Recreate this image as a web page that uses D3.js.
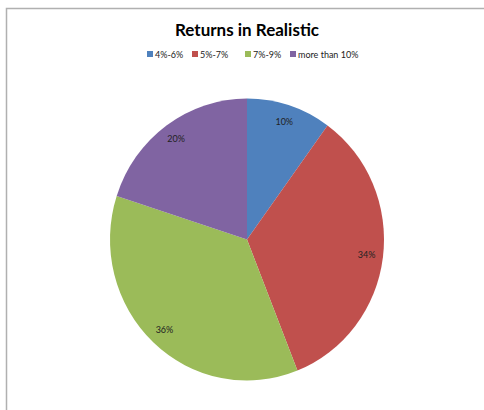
<!DOCTYPE html>
<html><head><meta charset="utf-8">
<script src="https://cdn.jsdelivr.net/npm/d3@7"></script>
<style>body{margin:0;background:#fff;}svg{display:block;}</style>
</head><body>
<svg id="c" width="484" height="410"></svg>
<script>
const categories = ["4%-6%", "5%-7%", "7%-9%", "more than 10%"];
const values = [10, 34, 36, 20];
const colors = ["#4F81BD", "#C0504D", "#9BBB59", "#8064A2"];
const title = "Returns in Realistic";

const svg = d3.select("#c");
const font = "Lato, 'Open Sans', sans-serif";
// border
svg.append("path").attr("d", "M6.5,410 V8.5 H484").attr("fill","none").attr("stroke","#b0b0b0").attr("stroke-width",1.5);

svg.append("text").attr("x", 247).attr("y", 36).attr("text-anchor","middle")
  .attr("font-family", font).attr("font-weight","bold").attr("font-size", 17).attr("fill","#000").text(title);

// legend
const lg = svg.append("g").attr("font-family", font).attr("font-size", 9).attr("fill","#222");
const lx = [147, 192, 245, 290];
categories.forEach((c,i)=>{
  lg.append("rect").attr("x", lx[i]).attr("y", 51).attr("width",6).attr("height",6).attr("fill", colors[i]);
  lg.append("text").attr("x", lx[i]+8).attr("y", 57.5).text(c);
});

const cx = 247, cy = 239.5, r = 141, sx = 137/141;
const pie = d3.pie().sort(null).value(d=>d)(values);
const arc = d3.arc().innerRadius(0).outerRadius(r);
const larc = d3.arc().innerRadius(r*0.88).outerRadius(r*0.88);
const g = svg.append("g").attr("transform", `translate(${cx},${cy})`);
g.append("g").attr("transform", `scale(${sx},1)`)
  .selectAll("path").data(pie).join("path").attr("d", arc).attr("fill", (d,i)=>colors[i]);
g.selectAll("text").data(pie).join("text")
  .attr("transform", d=>{const c = larc.centroid(d); return `translate(${c[0]*sx},${c[1]})`;})
  .attr("text-anchor","middle").attr("dy","0.35em")
  .attr("font-family", font).attr("font-size", 9).attr("fill","#222")
  .text(d=>d.data+"%");
</script>
</body></html>
